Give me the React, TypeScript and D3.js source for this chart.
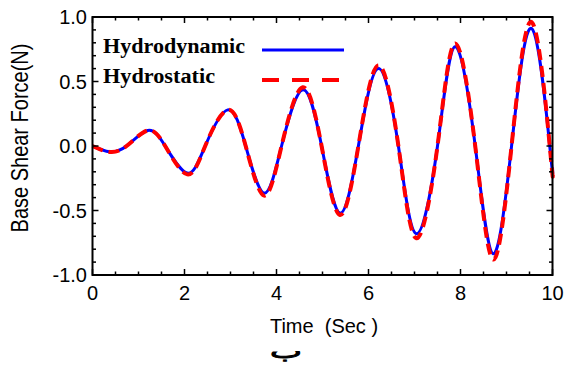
import React from "react";
import * as d3 from "d3";

// Sampled base shear force (N) versus time (s): extrema and zero crossings
const timeSec = [0, 0.37, 0.74, 1.2, 1.58, 2.06, 2.45, 2.94, 3.33, 3.73, 4.11, 4.57, 4.98, 5.38, 5.78, 6.21, 6.65, 7.04, 7.5, 7.88, 8.32, 8.71, 9.11, 9.55, 9.94, 10];
const hydrodynamic = [0, -0.044, 0, 0.12, 0, -0.21, 0, 0.28, 0, -0.365, 0, 0.435, 0, -0.52, 0, 0.6, 0, -0.68, 0, 0.77, 0, -0.835, 0, 0.91, 0, -0.17];
const hydrostatic = [0, -0.046, 0, 0.12, 0, -0.22, 0, 0.28, 0, -0.385, 0, 0.455, 0, -0.535, 0, 0.625, 0, -0.715, 0, 0.795, 0, -0.88, 0, 0.96, 0, -0.21];

const xMajorTicks = [0, 2, 4, 6, 8, 10];
const yMajorTicks = [1, 0.5, 0, -0.5, -1];
const seriesNames = ["Hydrodynamic", "Hydrostatic"];

const W = 564;
const H = 367;
const plot = { left: 92.5, right: 552.5, top: 17, bottom: 275 };

export default function App() {
  const x = d3.scaleLinear().domain([0, 10]).range([plot.left, plot.right]);
  const y = d3.scaleLinear().domain([-1, 1]).range([plot.bottom, plot.top]);

  const line = d3
    .line<number>()
    .x((_, i) => x(timeSec[i]))
    .y((d) => y(d))
    .curve(d3.curveNatural);

  const xMinor = d3.range(0, 10.001, 0.5).filter((v) => Math.abs(v / 2 - Math.round(v / 2)) > 1e-6);
  const yMinor = d3.range(-1, 1.001, 0.1).filter((v) => Math.abs(v * 2 - Math.round(v * 2)) > 1e-6);

  const sans = "Liberation Sans, Arial, sans-serif";
  const serif = "Liberation Serif, Times New Roman, serif";

  return (
    <svg width={W} height={H} style={{ position: "absolute", left: 0, top: 0, background: "#fff" }}>
      {/* series */}
      <path d={line(hydrodynamic) || ""} fill="none" stroke="#0000ff" strokeWidth={3} />
      <path d={line(hydrostatic) || ""} fill="none" stroke="#ff0000" strokeWidth={4} strokeDasharray="11,6" />

      {/* frame */}
      <rect x={plot.left} y={plot.top} width={plot.right - plot.left} height={plot.bottom - plot.top} fill="none" stroke="#000" strokeWidth={2} />

      {/* x ticks, bottom and top, pointing inward */}
      {xMajorTicks.map((t) => (
        <g key={"xm" + t}>
          <line x1={x(t)} x2={x(t)} y1={plot.bottom} y2={plot.bottom - 6} stroke="#000" strokeWidth={1.5} />
          <line x1={x(t)} x2={x(t)} y1={plot.top} y2={plot.top + 6} stroke="#000" strokeWidth={1.5} />
          <text x={x(t)} y={300} textAnchor="middle" fontFamily={sans} fontSize={20}>{t}</text>
        </g>
      ))}
      {xMinor.map((t) => (
        <g key={"xn" + t}>
          <line x1={x(t)} x2={x(t)} y1={plot.bottom} y2={plot.bottom - 3.5} stroke="#000" strokeWidth={1.5} />
          <line x1={x(t)} x2={x(t)} y1={plot.top} y2={plot.top + 3.5} stroke="#000" strokeWidth={1.5} />
        </g>
      ))}

      {/* y ticks, left and right, pointing inward */}
      {yMajorTicks.map((v) => (
        <g key={"ym" + v}>
          <line x1={plot.left} x2={plot.left + 6} y1={y(v)} y2={y(v)} stroke="#000" strokeWidth={1.5} />
          <line x1={plot.right} x2={plot.right - 6} y1={y(v)} y2={y(v)} stroke="#000" strokeWidth={1.5} />
          <text x={87} y={y(v) + 7} textAnchor="end" fontFamily={sans} fontSize={20}>
            {(v < 0 ? "-" : "") + Math.abs(v).toFixed(1)}
          </text>
        </g>
      ))}
      {yMinor.map((v) => (
        <g key={"yn" + v.toFixed(1)}>
          <line x1={plot.left} x2={plot.left + 3.5} y1={y(v)} y2={y(v)} stroke="#000" strokeWidth={1.5} />
          <line x1={plot.right} x2={plot.right - 3.5} y1={y(v)} y2={y(v)} stroke="#000" strokeWidth={1.5} />
        </g>
      ))}

      {/* legend */}
      <text x={103} y={53} fontFamily={serif} fontWeight="bold" fontSize={20} textLength={142} lengthAdjust="spacingAndGlyphs">{seriesNames[0]}</text>
      <line x1={262} x2={344} y1={50} y2={50} stroke="#0000ff" strokeWidth={3} />
      <text x={103} y={83} fontFamily={serif} fontWeight="bold" fontSize={20} textLength={112} lengthAdjust="spacingAndGlyphs">{seriesNames[1]}</text>
      <line x1={262} x2={339} y1={80} y2={80} stroke="#ff0000" strokeWidth={4} strokeDasharray="17,13" />

      {/* axis titles */}
      <text x={324} y={333} textAnchor="middle" fontFamily={sans} fontSize={20} xmlSpace="preserve" style={{ whiteSpace: "pre" }}>
        {"Time  (Sec )"}
      </text>
      <text transform="translate(28,138) rotate(-90) scale(1,1.2)" textAnchor="middle" fontFamily={sans} fontSize={20}>
        Base Shear Force(N)
      </text>
      <text transform="translate(286,358) scale(1.7,1)" textAnchor="middle" fontFamily="DejaVu Sans, sans-serif" fontSize={20} stroke="#000" strokeWidth={0.9}>
        ب
      </text>
    </svg>
  );
}
